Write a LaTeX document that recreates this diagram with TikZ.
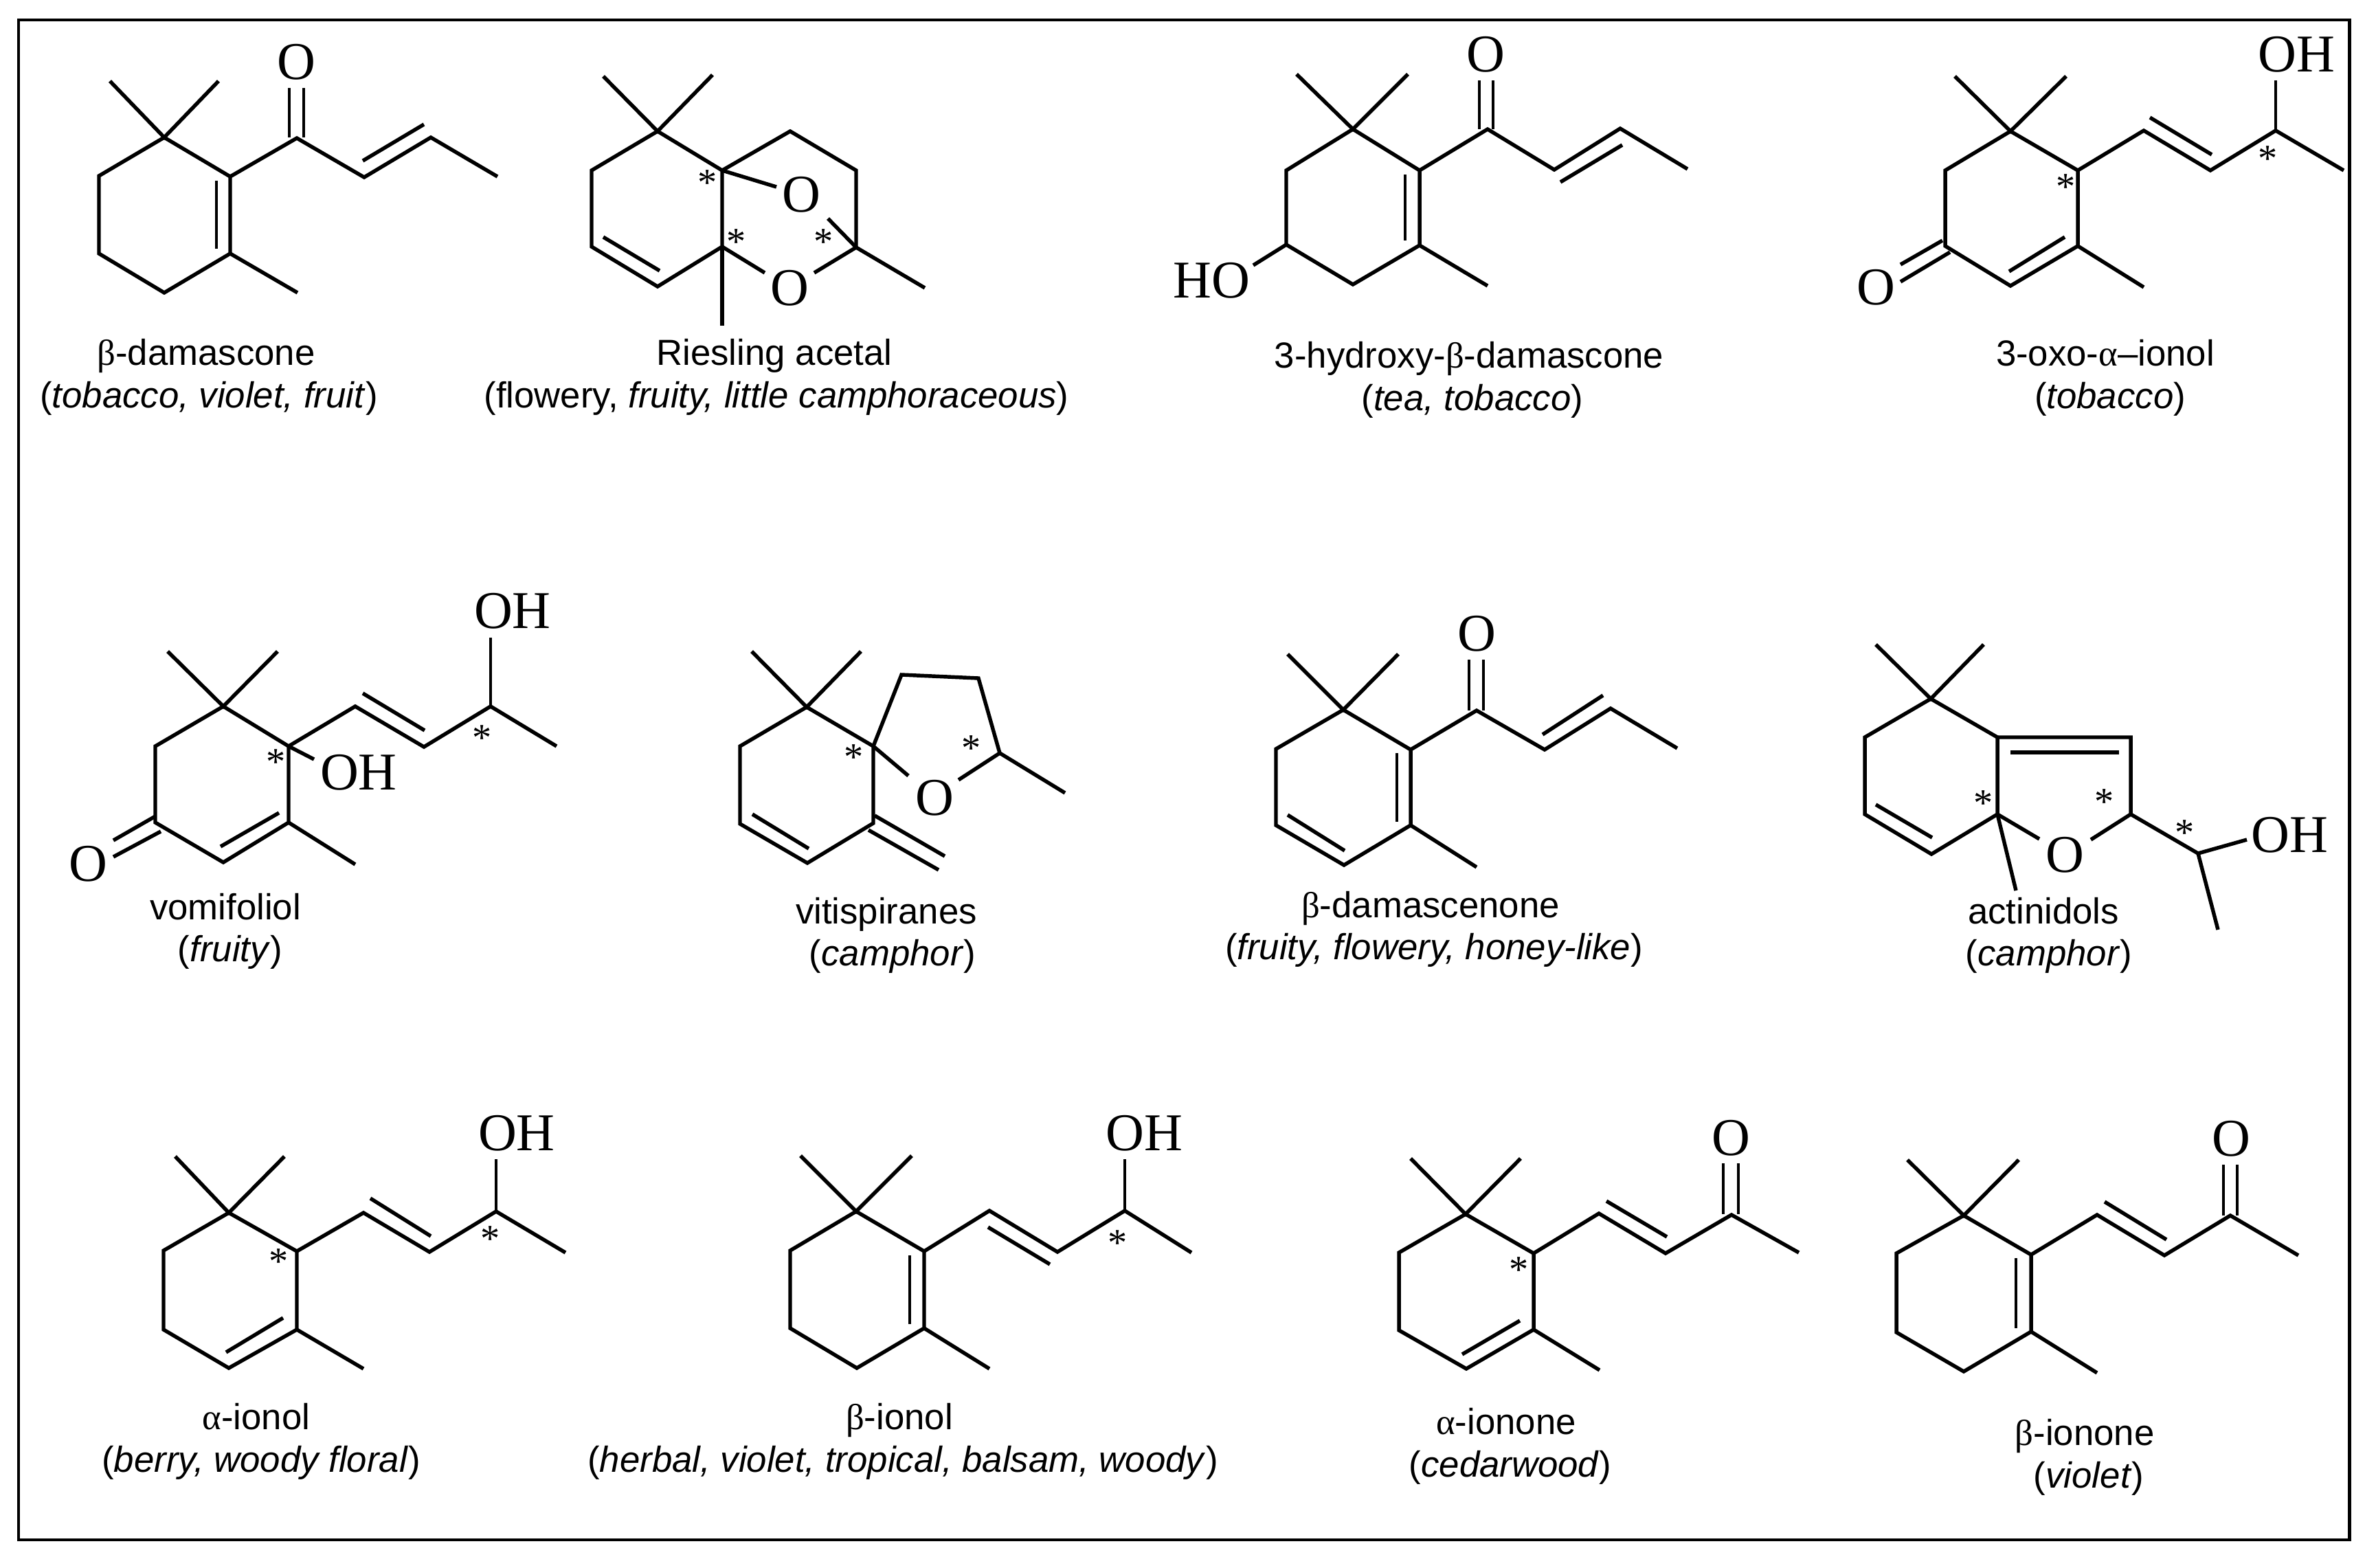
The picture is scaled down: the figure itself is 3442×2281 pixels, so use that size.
\documentclass[tikz,border=0pt]{standalone}
\usepackage{fontspec}
\setmainfont{Liberation Sans}
\newfontfamily\atomfont{Liberation Serif}
\newcommand{\gk}[1]{{\atomfont #1}}
\tikzset{
  bond/.style={line width=1.55pt},
  inbond/.style={line width=1.25pt},
  atom/.style={anchor=base, inner sep=0pt, font=\atomfont\fontsize{22}{22}\selectfont},
  chiral/.style={anchor=base, inner sep=0pt, font=\atomfont\fontsize{16}{16}\selectfont},
  cname/.style={anchor=base, inner sep=0pt, font=\fontsize{15}{15}\selectfont}
}
\begin{document}
\begin{tikzpicture}[x=0.01cm, y=-0.01cm]
	\useasboundingbox (0, 0) rectangle (3442, 2281);
	\draw[line width=1.4pt] (27, 29) rectangle (3419, 2241);

	% beta-damascone
	\foreach \n/\x/\y in {a1/239/200, a2/335/257, a3/335/369, a4/239/426, a5/144/369, a6/144/256,
			am1/160/118, am2/318/118, am3/433/426, ac1/432/201, ac2/530/258, ac3/627/200, ac4/724/257,
			ao1/421/128, ao2/421/200, ao3/442/128, ao4/442/200, ai1/315/263, ai2/315/362, aj1/528/234, aj2/617/181}
		\coordinate (\n) at (\x, \y);
	\draw[bond] (a1) -- (a2) -- (a3) -- (a4) -- (a5) -- (a6) -- cycle;
	\draw[bond] (am1) -- (a1) -- (am2);
	\draw[bond] (a3) -- (am3);
	\draw[bond] (a2) -- (ac1) -- (ac2) -- (ac3) -- (ac4);
	\draw[inbond] (ao1) -- (ao2);
	\draw[inbond] (ao3) -- (ao4);
	\draw[inbond] (ai1) -- (ai2);
	\draw[bond] (aj1) -- (aj2);
	\node[atom] (aO) at (431, 115) {O};
	\node[cname] (aname) at (300, 531) {\gk{β}-damascone};
	\node[cname] (aodor) at (304, 593) {(\textit{tobacco, violet, fruit})};

	% Riesling acetal
	\foreach \n/\x/\y in {b1/957/191, b2/1051/248, b3/1051/359, b4/957/417, b5/861/359, b6/861/248,
			bm1/878/111, bm2/1037/109, bm3/1051/474, bi1/878/345, bi2/960/394,
			bc1/1150/191, bc2/1246/248, bc3/1246/360, bc4/1346/419, bc5/1205/318,
			bo1/1130/272, bo2/1113/397, bo3/1185/397}
		\coordinate (\n) at (\x, \y);
	\draw[bond] (b1) -- (b2) -- (b3) -- (b4) -- (b5) -- (b6) -- cycle;
	\draw[bond] (bm1) -- (b1) -- (bm2);
	\draw[bond] (b3) -- (bm3);
	\draw[bond] (bi1) -- (bi2);
	\draw[bond] (b2) -- (bc1) -- (bc2) -- (bc3) -- (bc4);
	\draw[bond] (bc3) -- (bc5);
	\draw[bond] (b2) -- (bo1);
	\draw[bond] (b3) -- (bo2);
	\draw[bond] (bc3) -- (bo3);
	\node[atom] (bO1) at (1166, 308) {O};
	\node[atom] (bO2) at (1149, 444) {O};
	\node[chiral] (bs1) at (1030, 284) {*};
	\node[chiral] (bs2) at (1072, 370) {*};
	\node[chiral] (bs3) at (1199, 370) {*};
	\node[cname] (bname) at (1127, 531) {Riesling acetal};
	\node[cname] (bodor) at (1130, 593) {(flowery, \textit{fruity, little camphoraceous})};

	% 3-hydroxy-beta-damascone
	\foreach \n/\x/\y in {c1/1969/188, c2/2066/248, c3/2066/357, c4/1969/414, c5/1872/356, c6/1872/248,
			cm1/1887/108, cm2/2049/108, cm3/2165/416, cc1/2165/188, cc2/2262/247, cc3/2358/187, cc4/2456/246,
			co1/2153/117, co2/2153/188, co3/2173/117, co4/2173/188, ci1/2045/254, ci2/2045/350,
			cj1/2271/265, cj2/2361/211, ch1/1824/386}
		\coordinate (\n) at (\x, \y);
	\draw[bond] (c1) -- (c2) -- (c3) -- (c4) -- (c5) -- (c6) -- cycle;
	\draw[bond] (cm1) -- (c1) -- (cm2);
	\draw[bond] (c3) -- (cm3);
	\draw[bond] (c2) -- (cc1) -- (cc2) -- (cc3) -- (cc4);
	\draw[inbond] (co1) -- (co2);
	\draw[inbond] (co3) -- (co4);
	\draw[inbond] (ci1) -- (ci2);
	\draw[bond] (cj1) -- (cj2);
	\draw[bond] (c5) -- (ch1);
	\node[atom] (cO) at (2162, 104) {O};
	\node[atom] (cHO) at (1763, 433) {HO};
	\node[cname] (cname) at (2138, 535) {3-hydroxy-\gk{β}-damascone};
	\node[cname] (codor) at (2143, 597) {(\textit{tea, tobacco})};

	% 3-oxo-alpha-ionol
	\foreach \n/\x/\y in {d1/2926/191, d2/3024/248, d3/3024/358, d4/2926/416, d5/2831/358, d6/2831/248,
			dm1/2845/111, dm2/3007/111, dm3/3120/418, dc1/3120/190, dc2/3217/248, dc3/3312/190, dc4/3411/248,
			dh1/3312/117, dj1/3129/171, dj2/3219/225, di1/3005/345, di2/2924/395,
			do1/2827/350, do2/2766/385, do3/2838/367, do4/2766/410}
		\coordinate (\n) at (\x, \y);
	\draw[bond] (d1) -- (d2) -- (d3) -- (d4) -- (d5) -- (d6) -- cycle;
	\draw[bond] (dm1) -- (d1) -- (dm2);
	\draw[bond] (d3) -- (dm3);
	\draw[bond] (d2) -- (dc1) -- (dc2) -- (dc3) -- (dc4);
	\draw[inbond] (dc3) -- (dh1);
	\draw[bond] (dj1) -- (dj2);
	\draw[bond] (di1) -- (di2);
	\draw[bond] (do1) -- (do2);
	\draw[bond] (do3) -- (do4);
	\node[atom] (dOH) at (3342, 104) {OH};
	\node[atom] (dO) at (2730, 443) {O};
	\node[chiral] (ds1) at (3007, 290) {*};
	\node[chiral] (ds2) at (3301, 249) {*};
	\node[cname] (dname) at (3064, 532) {3-oxo-\gk{α}--ionol};
	\node[cname] (dodor) at (3071, 594) {(\textit{tobacco})};

	% vomifoliol
	\foreach \n/\x/\y in {e1/325/1028, e2/420/1086, e3/420/1197, e4/325/1255, e5/226/1197, e6/226/1086,
			em1/244/948, em2/404/948, em3/517/1258, ec1/517/1028, ec2/617/1087, ec3/714/1028, ec4/810/1086,
			eh1/714/928, eh2/457/1105, ej1/528/1009, ej2/618/1063, ei1/406/1183, ei2/321/1232,
			eo1/226/1188, eo2/165/1223, eo3/234/1210, eo4/165/1247}
		\coordinate (\n) at (\x, \y);
	\draw[bond] (e1) -- (e2) -- (e3) -- (e4) -- (e5) -- (e6) -- cycle;
	\draw[bond] (em1) -- (e1) -- (em2);
	\draw[bond] (e3) -- (em3);
	\draw[bond] (e2) -- (ec1) -- (ec2) -- (ec3) -- (ec4);
	\draw[inbond] (ec3) -- (eh1);
	\draw[bond] (e2) -- (eh2);
	\draw[bond] (ej1) -- (ej2);
	\draw[bond] (ei1) -- (ei2);
	\draw[bond] (eo1) -- (eo2);
	\draw[bond] (eo3) -- (eo4);
	\node[atom] (eOH1) at (746, 914) {OH};
	\node[atom] (eOH2) at (522, 1149) {OH};
	\node[atom] (eO) at (128, 1282) {O};
	\node[chiral] (es1) at (402, 1127) {*};
	\node[chiral] (es2) at (702, 1092) {*};
	\node[cname] (ename) at (328, 1338) {vomifoliol};
	\node[cname] (eodor) at (335, 1399) {(\textit{fruity})};

	% vitispiranes
	\foreach \n/\x/\y in {f1/1174/1029, f2/1271/1086, f3/1271/1198, f4/1175/1256, f5/1077/1199, f6/1077/1086,
			fm1/1094/948, fm2/1253/948, fi1/1095/1185, fi2/1177/1235,
			fe1/1273/1187, fe2/1375/1246, fe3/1264/1208, fe4/1366/1266,
			fc1/1312/982, fc2/1424/987, fc3/1455/1096, fc4/1550/1154, fo1/1322/1129, fo2/1395/1135}
		\coordinate (\n) at (\x, \y);
	\draw[bond] (f1) -- (f2) -- (f3) -- (f4) -- (f5) -- (f6) -- cycle;
	\draw[bond] (fm1) -- (f1) -- (fm2);
	\draw[bond] (fi1) -- (fi2);
	\draw[bond] (fe1) -- (fe2);
	\draw[bond] (fe3) -- (fe4);
	\draw[bond] (f2) -- (fc1) -- (fc2) -- (fc3) -- (fc4);
	\draw[bond] (f2) -- (fo1);
	\draw[bond] (fc3) -- (fo2);
	\node[atom] (fO) at (1360, 1186) {O};
	\node[chiral] (fs1) at (1243, 1120) {*};
	\node[chiral] (fs2) at (1414, 1107) {*};
	\node[cname] (fname) at (1290, 1344) {vitispiranes};
	\node[cname] (fodor) at (1299, 1405) {(\textit{camphor})};

	% beta-damascenone
	\foreach \n/\x/\y in {g1/1955/1033, g2/2053/1091, g3/2053/1201, g4/1956/1259, g5/1857/1201, g6/1857/1090,
			gm1/1874/952, gm2/2035/952, gm3/2149/1262, gi1/2033/1096, gi2/2033/1196, gi3/1874/1186, gi4/1957/1238,
			gc1/2149/1034, gc2/2248/1091, gc3/2344/1031, gc4/2441/1089,
			go1/2138/960, go2/2138/1034, go3/2159/960, go4/2159/1034, gj1/2245/1069, gj2/2333/1012}
		\coordinate (\n) at (\x, \y);
	\draw[bond] (g1) -- (g2) -- (g3) -- (g4) -- (g5) -- (g6) -- cycle;
	\draw[bond] (gm1) -- (g1) -- (gm2);
	\draw[bond] (g3) -- (gm3);
	\draw[bond] (g2) -- (gc1) -- (gc2) -- (gc3) -- (gc4);
	\draw[inbond] (go1) -- (go2);
	\draw[inbond] (go3) -- (go4);
	\draw[inbond] (gi1) -- (gi2);
	\draw[bond] (gi3) -- (gi4);
	\draw[bond] (gj1) -- (gj2);
	\node[atom] (gO) at (2149, 947) {O};
	\node[cname] (gname) at (2082, 1335) {\gk{β}-damascenone};
	\node[cname] (godor) at (2087, 1396) {(\textit{fruity, flowery, honey-like})};

	% actinidols
	\foreach \n/\x/\y in {h1/2810/1017, h2/2907/1073, h3/2907/1185, h4/2811/1243, h5/2714/1185, h6/2714/1073,
			hm1/2730/938, hm2/2887/938, hm3/2934/1296, hi1/2730/1171, hi2/2812/1219,
			hc1/3101/1073, hc2/3101/1185, hc3/3199/1242, hc4/3270/1222, hc5/3228/1353,
			hj1/2926/1095, hj2/3084/1095, ho1/2968/1221, ho2/3043/1222}
		\coordinate (\n) at (\x, \y);
	\draw[bond] (h1) -- (h2) -- (h3) -- (h4) -- (h5) -- (h6) -- cycle;
	\draw[bond] (hm1) -- (h1) -- (hm2);
	\draw[bond] (h3) -- (hm3);
	\draw[bond] (hi1) -- (hi2);
	\draw[bond] (h2) -- (hc1) -- (hc2) -- (hc3) -- (hc4);
	\draw[bond] (hc3) -- (hc5);
	\draw[bond] (hj1) -- (hj2);
	\draw[bond] (h3) -- (ho1);
	\draw[bond] (hc2) -- (ho2);
	\node[atom] (hO) at (3005, 1269) {O};
	\node[atom] (hOH) at (3332, 1240) {OH};
	\node[chiral] (hs1) at (2887, 1187) {*};
	\node[chiral] (hs2) at (3063, 1185) {*};
	\node[chiral] (hs3) at (3180, 1230) {*};
	\node[cname] (hname) at (2974, 1344) {actinidols};
	\node[cname] (hodor) at (2982, 1405) {(\textit{camphor})};

	% alpha-ionol
	\foreach \n/\x/\y in {i1/333/1765, i2/432/1821, i3/432/1935, i4/333/1991, i5/238/1935, i6/238/1820,
			im1/255/1683, im2/414/1683, im3/529/1992, ic1/529/1765, ic2/625/1822, ic3/722/1763, ic4/823/1823,
			ih1/722/1687, ij1/539/1744, ij2/627/1799, ii1/412/1918, ii2/329/1968}
		\coordinate (\n) at (\x, \y);
	\draw[bond] (i1) -- (i2) -- (i3) -- (i4) -- (i5) -- (i6) -- cycle;
	\draw[bond] (im1) -- (i1) -- (im2);
	\draw[bond] (i3) -- (im3);
	\draw[bond] (i2) -- (ic1) -- (ic2) -- (ic3) -- (ic4);
	\draw[inbond] (ic3) -- (ih1);
	\draw[bond] (ij1) -- (ij2);
	\draw[bond] (ii1) -- (ii2);
	\node[atom] (iOH) at (752, 1674) {OH};
	\node[chiral] (is1) at (406, 1854) {*};
	\node[chiral] (is2) at (714, 1821) {*};
	\node[cname] (iname) at (373, 2080) {\gk{α}-ionol};
	\node[cname] (iodor) at (380, 2142) {(\textit{berry, woody floral})};

	% beta-ionol
	\foreach \n/\x/\y in {j1/1246/1763, j2/1345/1821, j3/1345/1933, j4/1247/1991, j5/1150/1933, j6/1150/1820,
			jm1/1165/1682, jm2/1327/1682, jm3/1440/1992, jc1/1440/1762, jc2/1539/1822, jc3/1637/1762, jc4/1734/1823,
			jh1/1637/1687, jj1/1438/1786, jj2/1528/1840, ji1/1324/1827, ji2/1324/1927}
		\coordinate (\n) at (\x, \y);
	\draw[bond] (j1) -- (j2) -- (j3) -- (j4) -- (j5) -- (j6) -- cycle;
	\draw[bond] (jm1) -- (j1) -- (jm2);
	\draw[bond] (j3) -- (jm3);
	\draw[bond] (j2) -- (jc1) -- (jc2) -- (jc3) -- (jc4);
	\draw[inbond] (jc3) -- (jh1);
	\draw[bond] (jj1) -- (jj2);
	\draw[inbond] (ji1) -- (ji2);
	\node[atom] (jOH) at (1665, 1674) {OH};
	\node[chiral] (js1) at (1627, 1827) {*};
	\node[cname] (jname) at (1309, 2080) {\gk{β}-ionol};
	\node[cname] (jodor) at (1314, 2142) {(\textit{herbal, violet, tropical, balsam, woody})};

	% alpha-ionone
	\foreach \n/\x/\y in {k1/2133/1767, k2/2232/1824, k3/2232/1935, k4/2134/1992, k5/2036/1936, k6/2036/1823,
			km1/2053/1686, km2/2213/1686, km3/2328/1994, kc1/2327/1766, kc2/2424/1824, kc3/2520/1768, kc4/2618/1823,
			ko1/2508/1693, ko2/2508/1767, ko3/2530/1693, ko4/2530/1767, kj1/2338/1748, kj2/2426/1800, ki1/2212/1922, ki2/2128/1971}
		\coordinate (\n) at (\x, \y);
	\draw[bond] (k1) -- (k2) -- (k3) -- (k4) -- (k5) -- (k6) -- cycle;
	\draw[bond] (km1) -- (k1) -- (km2);
	\draw[bond] (k3) -- (km3);
	\draw[bond] (k2) -- (kc1) -- (kc2) -- (kc3) -- (kc4);
	\draw[inbond] (ko1) -- (ko2);
	\draw[inbond] (ko3) -- (ko4);
	\draw[bond] (kj1) -- (kj2);
	\draw[bond] (ki1) -- (ki2);
	\node[atom] (kO) at (2519, 1681) {O};
	\node[chiral] (ks1) at (2211, 1866) {*};
	\node[cname] (kname) at (2192, 2087) {\gk{α}-ionone};
	\node[cname] (kodor) at (2198, 2149) {(\textit{cedarwood})};

	% beta-ionone
	\foreach \n/\x/\y in {l1/2858/1769, l2/2956/1826, l3/2956/1938, l4/2858/1996, l5/2760/1939, l6/2760/1824,
			lm1/2776/1688, lm2/2938/1688, lm3/3052/1998, lc1/3052/1768, lc2/3150/1827, lc3/3246/1769, lc4/3345/1827,
			lo1/3236/1695, lo2/3236/1769, lo3/3256/1695, lo4/3256/1769, lj1/3063/1749, lj2/3153/1804, li1/2934/1831, li2/2934/1933}
		\coordinate (\n) at (\x, \y);
	\draw[bond] (l1) -- (l2) -- (l3) -- (l4) -- (l5) -- (l6) -- cycle;
	\draw[bond] (lm1) -- (l1) -- (lm2);
	\draw[bond] (l3) -- (lm3);
	\draw[bond] (l2) -- (lc1) -- (lc2) -- (lc3) -- (lc4);
	\draw[inbond] (lo1) -- (lo2);
	\draw[inbond] (lo3) -- (lo4);
	\draw[bond] (lj1) -- (lj2);
	\draw[inbond] (li1) -- (li2);
	\node[atom] (lO) at (3247, 1682) {O};
	\node[cname] (lname) at (3034, 2103) {\gk{β}-ionone};
	\node[cname] (lodor) at (3040, 2165) {(\textit{violet})};
\end{tikzpicture}
\end{document}
